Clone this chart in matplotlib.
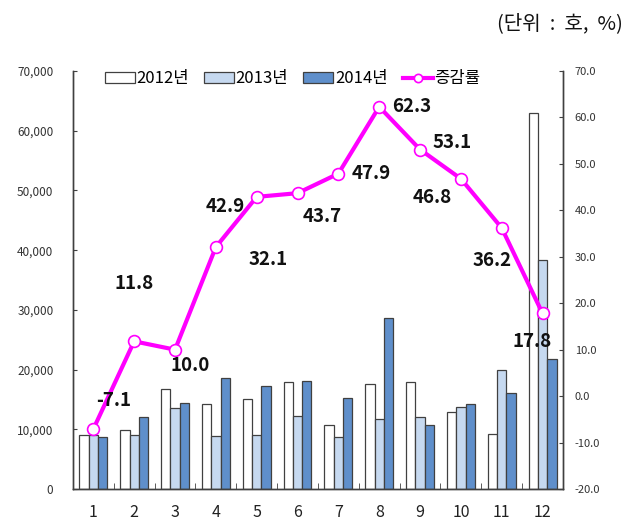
import numpy as np
import matplotlib
matplotlib.use("Agg")
import matplotlib.pyplot as plt
from matplotlib.ticker import FuncFormatter, MultipleLocator

plt.rcParams['font.family'] = ['Noto Sans CJK KR', 'DejaVu Sans']

months = ['1', '2', '3', '4', '5', '6', '7', '8', '9', '10', '11', '12']
y2012 = [9100, 9800, 16700, 14300, 15000, 17900, 10800, 17600, 17900, 12900, 9250, 62900]
y2013 = [9000, 9100, 13600, 8900, 9100, 12300, 8750, 11700, 12000, 13700, 19950, 38300]
y2014 = [8700, 12000, 14400, 18600, 17200, 18050, 15300, 28600, 10650, 14300, 16000, 21700]
rate = [-7.1, 11.8, 10.0, 32.1, 42.9, 43.7, 47.9, 62.3, 53.1, 46.8, 36.2, 17.8]
series_names = ['2012년', '2013년', '2014년', '증감률']
# label offsets in pixels from each point
label_off = [(20, 29), (0, 58), (15, -16), (52, -12), (-31, -10), (25, -23),
             (33, 0), (32, 0), (32, 7), (-29, -19), (-10, -33), (-10, -28)]

fig = plt.figure(figsize=(6.34, 5.21), dpi=100)
ax = fig.add_axes([0.115, 0.0614, 0.773, 0.8023])
ax2 = ax.twinx()

x = np.arange(1, 13)
w = 0.228
edge = '#404040'
b1 = ax.bar(x - w, y2012, w, color='white', edgecolor=edge, linewidth=0.9)
b2 = ax.bar(x, y2013, w, color='#c6d9f0', edgecolor=edge, linewidth=0.9)
b3 = ax.bar(x + w, y2014, w, color='#5f8fcb', edgecolor=edge, linewidth=0.9)

ax.set_xlim(0.5, 12.5)
ax.set_ylim(0, 70000)
ax.yaxis.set_major_locator(MultipleLocator(10000))
ax.yaxis.set_major_formatter(FuncFormatter(lambda v, p: f'{int(v):,}'))
ax.set_xticks(x)
ax.set_xticklabels(months)
ax.set_xticks(np.arange(0.5, 13, 1), minor=True)
ax.tick_params(axis='x', which='major', length=0, labelsize=11.5, pad=11, labelcolor='#222222')
ax.tick_params(axis='x', which='minor', length=4, direction='in', color='#404040')
ax.tick_params(axis='y', length=3, direction='in', labelsize=8.5, pad=14, labelcolor='#333333', color='#404040')

ax2.set_ylim(-20, 70)
ax2.yaxis.set_major_locator(MultipleLocator(10))
ax2.yaxis.set_major_formatter(FuncFormatter(lambda v, p: f'{v:.1f}'))
ax2.tick_params(axis='y', length=3, direction='in', labelsize=8, pad=8.5, labelcolor='#333333', color='#404040')

for a in (ax, ax2):
    a.spines['top'].set_visible(False)
    for s in ('left', 'right', 'bottom'):
        a.spines[s].set_color('#404040')
        a.spines[s].set_linewidth(1.0)

ln, = ax2.plot(x, rate, color='#ff00ff', linewidth=3.0, marker='o', markersize=8.5,
               markerfacecolor='white', markeredgecolor='#ff00ff', markeredgewidth=1.2, zorder=5)

for xi, r, off in zip(x, rate, label_off):
    ax2.annotate(f'{r:.1f}', (xi, r), xytext=off, textcoords='offset pixels',
                 ha='center', va='center', fontsize=13.5, fontweight='bold', color='#111111', zorder=6)

leg = ax2.legend([b1, b2, b3, ln], series_names, loc='center left', bbox_to_anchor=(0.065, 0.981),
                 ncol=4, frameon=False, fontsize=12, handlelength=1.8, handleheight=0.56,
                 handletextpad=0.1, columnspacing=0.9, borderaxespad=0, borderpad=0, markerscale=0.7)

fig.text(0.982, 0.955, '(단위  :  호,  %)', ha='right', va='center', fontsize=14.5, color='#111111')

fig.savefig('out.png', dpi=100)
